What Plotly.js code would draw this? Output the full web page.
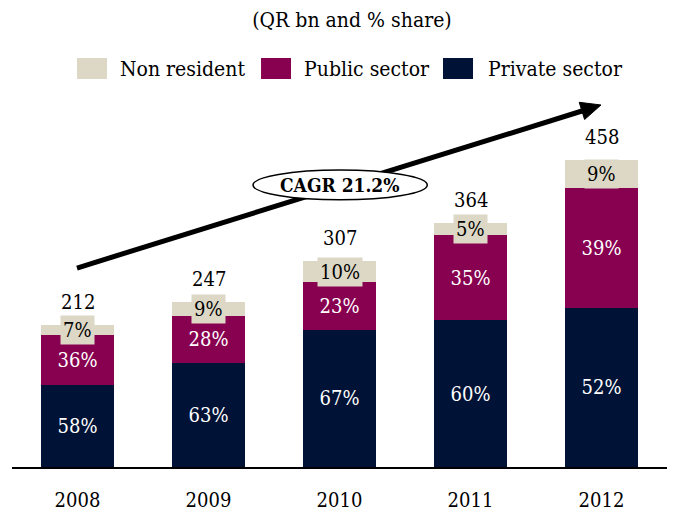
<!DOCTYPE html>
<html>
<head>
<meta charset="utf-8">
<script src="https://cdn.plot.ly/plotly-3.0.1.min.js"></script>
<style>
  html, body { margin: 0; padding: 0; background: #fff; }
  #chart { width: 673px; height: 512px; }
</style>
</head>
<body>
<div id="chart"></div>
<script>
// categories and values (QR bn)
const YEARS = ["2008", "2009", "2010", "2011", "2012"];
const PRIVATE = [122, 156, 205, 219, 238];
const PUBLIC = [75, 69, 71, 127, 179];
const NON_RESIDENT = [15, 22, 31, 18, 41];
const TOTALS = [212, 247, 307, 364, 458];

// shares shown as labels
const PRIVATE_SHARE = ["58%", "63%", "67%", "60%", "52%"];
const PUBLIC_SHARE = ["36%", "28%", "23%", "35%", "39%"];
const NON_RESIDENT_SHARE = ["7%", "9%", "10%", "5%", "9%"];

const FONT = "DejaVu Serif Condensed, DejaVu Serif, serif";
const C_NONRES = "#DDD8C6";
const C_PUBLIC = "#880050";
const C_PRIVATE = "#001235";

const DATA = [
  {
    x: YEARS, y: PRIVATE, type: "bar", name: "Private sector",
    marker: { color: C_PRIVATE },
    text: PRIVATE_SHARE, textposition: "inside", insidetextanchor: "middle",
    textangle: 0, constraintext: "none",
    textfont: { family: FONT, size: 20, color: "#ffffff" },
    hoverinfo: "skip"
  },
  {
    x: YEARS, y: PUBLIC, type: "bar", name: "Public sector",
    marker: { color: C_PUBLIC },
    text: PUBLIC_SHARE, textposition: "inside", insidetextanchor: "middle",
    textangle: 0, constraintext: "none",
    textfont: { family: FONT, size: 20, color: "#ffffff" },
    hoverinfo: "skip"
  },
  {
    x: YEARS, y: NON_RESIDENT, type: "bar", name: "Non resident",
    marker: { color: C_NONRES },
    textposition: "none",
    hoverinfo: "skip"
  }
];

const annotations = [];
YEARS.forEach((yr, i) => {
  // non resident share, boxed (x given as category index)
  annotations.push({
    x: i, y: PRIVATE[i] + PUBLIC[i] + NON_RESIDENT[i] / 2,
    xref: "x", yref: "y", text: NON_RESIDENT_SHARE[i], showarrow: false,
    yanchor: "middle",
    font: { family: FONT, size: 20, color: "#000" },
    bgcolor: C_NONRES, borderpad: 2
  });
  // totals
  annotations.push({
    x: i, y: TOTALS[i], xref: "x", yref: "y", text: String(TOTALS[i]),
    showarrow: false, yanchor: "bottom", yshift: 9,
    font: { family: FONT, size: 20, color: "#000" }
  });
});

// CAGR label
annotations.push({
  x: 0.501, y: 0.768, xref: "paper", yref: "paper", text: "<b>CAGR 21.2%</b>",
  showarrow: false, xanchor: "center", yanchor: "middle",
  font: { family: FONT, size: 19, color: "#000" }
});

// legend (drawn by hand for larger keys)
const LEGEND = [
  { name: "Non resident", color: C_NONRES, x0: 0.0992, tx: 0.1618 },
  { name: "Public sector", color: C_PUBLIC, x0: 0.3802, tx: 0.4427 },
  { name: "Private sector", color: C_PRIVATE, x0: 0.658, tx: 0.7237 }
];
const shapes = [];
LEGEND.forEach(l => {
  shapes.push({
    type: "rect", xref: "paper", yref: "paper",
    x0: l.x0, x1: l.x0 + 0.0458, y0: 1.0572, y1: 1.1144,
    fillcolor: l.color, line: { width: 0 }
  });
  annotations.push({
    x: l.tx, y: 1.0845, xref: "paper", yref: "paper", text: l.name,
    showarrow: false, xanchor: "left", yanchor: "middle",
    font: { family: FONT, size: 21, color: "#000" }
  });
});

// growth arrow, then the ellipse on top of it
shapes.push({
  type: "line", xref: "paper", yref: "paper",
  x0: 0.0992, y0: 0.5422, x1: 0.8702, y1: 0.9700,
  line: { color: "#000", width: 5 }
});
shapes.push({
  type: "path", xref: "paper", yref: "paper",
  path: "M 0.8992 0.9864 L 0.8742 0.9469 L 0.8660 0.9937 Z",
  fillcolor: "#000", line: { color: "#000", width: 1 }
});
shapes.push({
  type: "circle", xref: "paper", yref: "paper",
  x0: 0.368, x1: 0.634, y0: 0.728, y1: 0.809,
  fillcolor: "#fff", line: { color: "#000", width: 1.5 }
});

const LAYOUT = {
  width: 673, height: 512,
  margin: { l: 12, r: 6, t: 100, b: 45 },
  paper_bgcolor: "#fff", plot_bgcolor: "#fff",
  barmode: "stack", bargap: 0.45,
  showlegend: false,
  title: {
    text: "(QR bn and % share)", x: 0.523, xanchor: "center",
    y: 0.961, yanchor: "middle",
    font: { family: FONT, size: 21, color: "#000" }
  },
  xaxis: {
    type: "category", range: [-0.5, 4.5], autorange: false,
    showline: true, linecolor: "#000", linewidth: 2,
    ticks: "", ticklabelstandoff: 14, showgrid: false,
    tickfont: { family: FONT, size: 20, color: "#000" }
  },
  yaxis: {
    range: [0, 548], autorange: false, visible: false,
    showgrid: false, zeroline: false
  },
  annotations: annotations,
  shapes: shapes
};

Plotly.newPlot("chart", DATA, LAYOUT, { staticPlot: true });
</script>
</body>
</html>
